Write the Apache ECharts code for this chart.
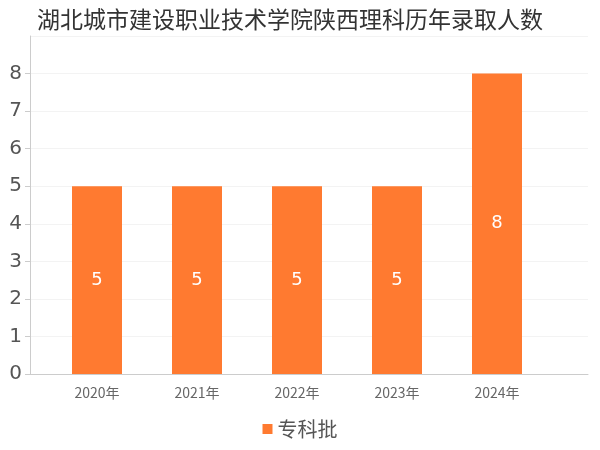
<!DOCTYPE html><html><head><meta charset="utf-8"><script src="https://cdn.jsdelivr.net/npm/echarts@6/dist/echarts.min.js"></script></head><body style="margin:0"><div id="c" style="width:600px;height:450px"></div><script>
const categories=['2020年','2021年','2022年','2023年','2024年'];
const values=[5,5,5,5,8];
const seriesName='专科批';
const c=echarts.init(document.getElementById('c'));
c.setOption({
title:{text:'湖北城市建设职业技术学院陕西理科历年录取人数',left:32,top:3,textStyle:{fontSize:23,fontWeight:'normal',color:'#333',fontFamily:'Noto Sans CJK SC'}},
legend:{data:[seriesName],bottom:6,itemWidth:10,itemHeight:10,icon:'rect',textStyle:{fontSize:20,color:'#555',fontFamily:'Noto Sans CJK SC'}},
grid:[{left:30,right:12,top:36,bottom:76},{left:47,right:53,top:36,bottom:76}],
xAxis:[{type:'value',gridIndex:0,min:0,max:1,axisLabel:{show:false},axisTick:{show:false},splitLine:{show:false},axisLine:{show:true,lineStyle:{color:'#ccc'}}},
{type:'category',gridIndex:1,data:categories,axisTick:{show:false},axisLine:{show:false},axisLabel:{fontSize:14,color:'#666',margin:12,fontFamily:'Noto Sans CJK SC'}}],
yAxis:[{type:'value',gridIndex:0,min:0,max:9,interval:1,axisLine:{show:true,lineStyle:{color:'#ccc'}},axisLabel:{fontSize:20,color:'#555',showMaxLabel:false,margin:8,fontFamily:'DejaVu Sans'},splitLine:{lineStyle:{color:'#f3f3f3'}}},
{type:'value',gridIndex:1,min:0,max:9,interval:1,show:false}],
series:[{name:seriesName,type:'bar',xAxisIndex:1,yAxisIndex:1,data:values,barWidth:50,itemStyle:{color:'#FF7A30'},label:{show:true,position:'inside',color:'#fff',fontSize:18,fontFamily:'DejaVu Sans'}}]
});
</script></body></html>
